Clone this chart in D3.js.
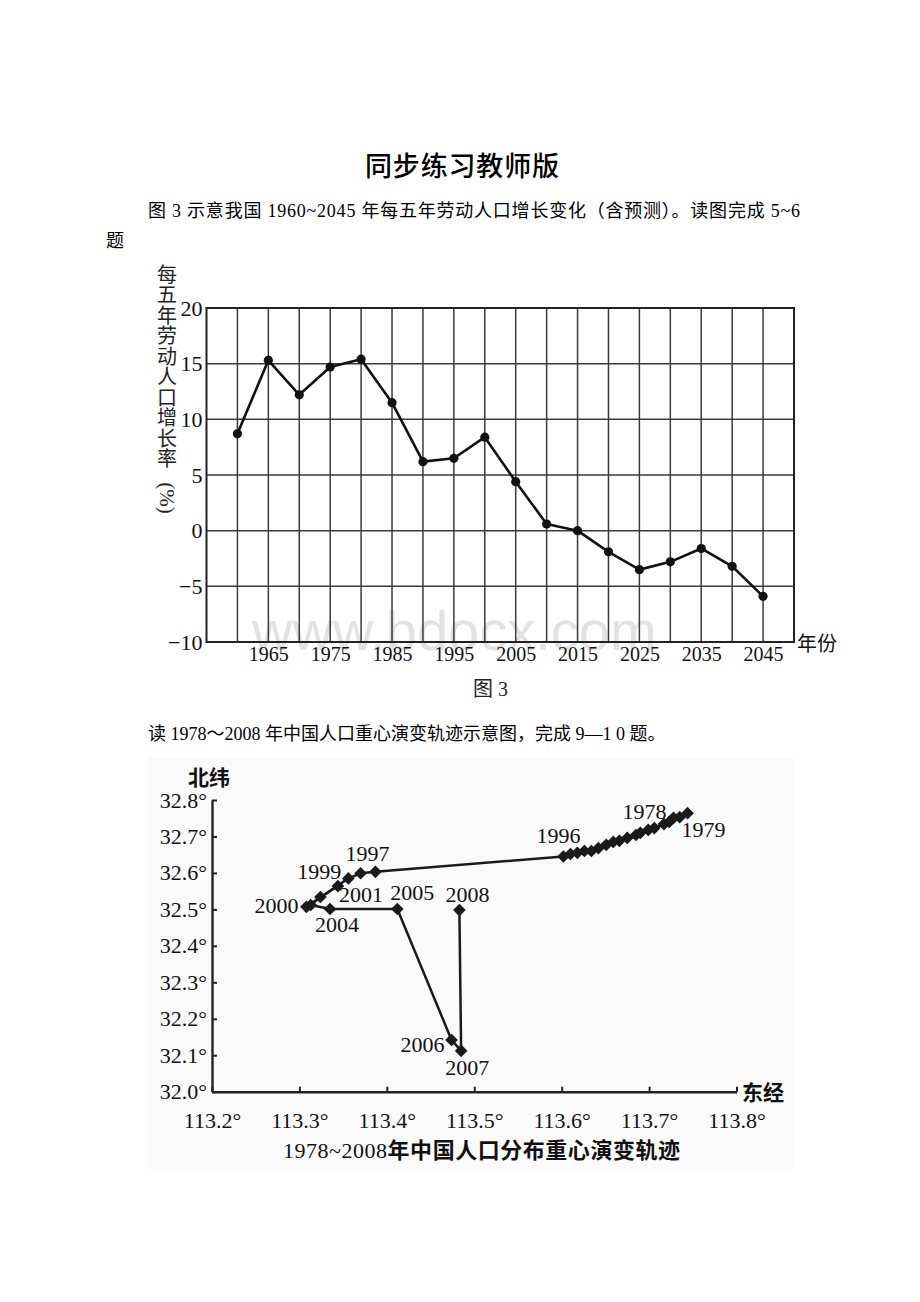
<!DOCTYPE html>
<html>
<head>
<meta charset="utf-8">
<script src="https://cdn.jsdelivr.net/npm/d3@7"></script>
<style>
  html, body { margin: 0; padding: 0; background: #fff; }
  svg { display: block; }
</style>
</head>
<body>
<svg id="page" width="920" height="1302"></svg>
<script>
// ---------- Chart 1 data: 每五年劳动人口增长率 ----------
const years = [1960, 1965, 1970, 1975, 1980, 1985, 1990, 1995, 2000, 2005, 2010, 2015, 2020, 2025, 2030, 2035, 2040, 2045];
const growth = [8.7, 15.3, 12.2, 14.7, 15.4, 11.5, 6.2, 6.5, 8.4, 4.4, 0.6, 0.0, -1.9, -3.5, -2.8, -1.6, -3.2, -5.9];
const growthTicks = [-10, -5, 0, 5, 10, 15, 20];
const yearTickLabels = [1965, 1975, 1985, 1995, 2005, 2015, 2025, 2035, 2045];
const yTitleChars = ["每", "五", "年", "劳", "动", "人", "口", "增", "长", "率"];

// ---------- Chart 2 data: 人口重心演变轨迹 ----------
const trackYears = [1978, 1979, 1980, 1981, 1982, 1983, 1984, 1985, 1986, 1987, 1988, 1989, 1990, 1991, 1992, 1993, 1994, 1995, 1996, 1997, 1998, 1999, 2000, 2001, 2002, 2003, 2004, 2005, 2006, 2007, 2008];
const trackLon = [113.728, 113.744, 113.735, 113.723, 113.717, 113.706, 113.699, 113.690, 113.685, 113.675, 113.666, 113.659, 113.651, 113.642, 113.634, 113.626, 113.618, 113.610, 113.602, 113.387, 113.370, 113.356, 113.308, 113.344, 113.324, 113.313, 113.335, 113.412, 113.474, 113.485, 113.483];
const trackLat = [32.751, 32.764, 32.753, 32.740, 32.734, 32.723, 32.718, 32.710, 32.704, 32.696, 32.688, 32.685, 32.677, 32.668, 32.660, 32.660, 32.655, 32.652, 32.645, 32.603, 32.599, 32.585, 32.507, 32.564, 32.534, 32.512, 32.501, 32.501, 32.142, 32.112, 32.498];
const latTicks = [32.0, 32.1, 32.2, 32.3, 32.4, 32.5, 32.6, 32.7, 32.8];
const lonTicks = [113.2, 113.3, 113.4, 113.5, 113.6, 113.7, 113.8];
const labelledYears = [1978, 1979, 1996, 1997, 1999, 2000, 2001, 2004, 2005, 2006, 2007, 2008];

// label placement (style, not data): offsets from the marker to the label centre
const labelOffset = {
  1978: [-29, -6], 1979: [16, 17], 1996: [-5, -21], 1997: [-8, -18],
  1999: [-29, -7], 2000: [-30, -1], 2001: [23, 9], 2004: [7, 16],
  2005: [15, -16], 2006: [-29, 5], 2007: [6, 17], 2008: [8, -15]
};

const SERIF = "'Liberation Serif', 'Times New Roman', serif";
const CJK = "'Liberation Serif', 'Noto Sans CJK SC', sans-serif";
const CJKS = "'Noto Sans CJK SC', sans-serif";

const svg = d3.select("#page");

// ---------- page text ----------
svg.append("text")
  .attr("x", 365).attr("y", 166 + 0.38 * 27)
  .attr("font-family", CJKS).attr("font-size", 27).attr("font-weight", 500)
  .attr("textLength", 194).attr("lengthAdjust", "spacing")
  .attr("fill", "#000")
  .text("同步练习教师版");

svg.append("text")
  .attr("x", 148).attr("y", 210 + 0.38 * 18)
  .attr("font-family", CJK).attr("font-size", 18)
  .attr("textLength", 652).attr("lengthAdjust", "spacing")
  .attr("fill", "#000")
  .text("图 3 示意我国 1960~2045 年每五年劳动人口增长变化（含预测）。读图完成 5~6");

svg.append("text")
  .attr("x", 106).attr("y", 240 + 0.38 * 18)
  .attr("font-family", CJK).attr("font-size", 18).attr("fill", "#000")
  .text("题");

svg.append("text")
  .attr("x", 148).attr("y", 733 + 0.38 * 18)
  .attr("font-family", CJK).attr("font-size", 18).attr("fill", "#000")
  .text("读 1978～2008 年中国人口重心演变轨迹示意图，完成 9—1 0 题。");

// ---------- Chart 1 ----------
const x1 = d3.scaleLinear().domain([1955, 2050]).range([206.5, 794]);
const y1 = d3.scaleLinear().domain([-10, 20]).range([642, 308]);

const c1 = svg.append("g");

// watermark (under the grid)
c1.append("text")
  .attr("x", 252).attr("y", 650)
  .attr("font-family", "'Liberation Sans', Arial, sans-serif")
  .attr("font-size", 56).attr("fill", "#e2e2e2")
  .text("www.bdocx.com");

// grid
c1.append("g").selectAll("line").data(years).join("line")
  .attr("x1", d => x1(d)).attr("x2", d => x1(d))
  .attr("y1", y1(20)).attr("y2", y1(-10))
  .attr("stroke", "#3a3a3a").attr("stroke-width", 1.5);
c1.append("g").selectAll("line").data(growthTicks).join("line")
  .attr("x1", x1(1955)).attr("x2", x1(2050))
  .attr("y1", d => y1(d)).attr("y2", d => y1(d))
  .attr("stroke", "#3a3a3a").attr("stroke-width", 1.5);
c1.append("rect")
  .attr("x", x1(1955)).attr("y", y1(20))
  .attr("width", x1(2050) - x1(1955)).attr("height", y1(-10) - y1(20))
  .attr("fill", "none").attr("stroke", "#222").attr("stroke-width", 2);

// axes (labels only)
const ax1 = c1.append("g").attr("transform", `translate(${x1(1955)},0)`)
  .call(d3.axisLeft(y1).tickValues(growthTicks).tickSize(0).tickPadding(4)
    .tickFormat(d => d < 0 ? "\u2212" + Math.abs(d) : String(d)));
ax1.select(".domain").remove();
ax1.attr("font-family", SERIF).attr("font-size", 22);
ax1.selectAll("text").attr("fill", "#111");

const bx1 = c1.append("g").attr("transform", `translate(0,${y1(-10)})`)
  .call(d3.axisBottom(x1).tickValues(yearTickLabels).tickSize(0).tickPadding(5).tickFormat(d3.format("d")));
bx1.select(".domain").remove();
bx1.attr("font-family", SERIF).attr("font-size", 20);
bx1.selectAll("text").attr("fill", "#111");

// line + points
const line1 = d3.line().x((d, i) => x1(years[i])).y(d => y1(d));
c1.append("path").datum(growth)
  .attr("d", line1).attr("fill", "none")
  .attr("stroke", "#111").attr("stroke-width", 2.6).attr("stroke-linejoin", "round");
c1.append("g").selectAll("circle").data(growth).join("circle")
  .attr("cx", (d, i) => x1(years[i])).attr("cy", d => y1(d)).attr("r", 4.6)
  .attr("fill", "#111");

// y title (vertical)
c1.append("g").selectAll("text").data(yTitleChars).join("text")
  .attr("x", 167).attr("y", (d, i) => 274 + i * 20.5 + 0.38 * 20)
  .attr("text-anchor", "middle")
  .attr("font-family", CJKS).attr("font-size", 20).attr("fill", "#222")
  .text(d => d);
c1.append("text")
  .attr("transform", "translate(167,498) rotate(90)")
  .attr("text-anchor", "middle").attr("dy", "0.33em")
  .attr("font-family", SERIF).attr("font-size", 21).attr("fill", "#222")
  .text("(%)");

c1.append("text")
  .attr("x", 797).attr("y", 643 + 0.38 * 20)
  .attr("font-family", CJKS).attr("font-size", 20).attr("fill", "#111")
  .text("年份");
c1.append("text")
  .attr("x", 473).attr("y", 688 + 0.38 * 20)
  .attr("font-family", CJK).attr("font-size", 20).attr("fill", "#222")
  .text("图 3");

// ---------- Chart 2 ----------
svg.append("rect")
  .attr("x", 148).attr("y", 757).attr("width", 646).attr("height", 412)
  .attr("fill", "#fafafa");

const x2 = d3.scaleLinear().domain([113.2, 113.8]).range([212, 736.5]);
const y2 = d3.scaleLinear().domain([32.0, 32.8]).range([1091.7, 800]);
const c2 = svg.append("g");

const ay2 = c2.append("g").attr("transform", `translate(${x2(113.2)},0)`)
  .call(d3.axisLeft(y2).tickValues(latTicks).tickSizeInner(-5).tickSizeOuter(0).tickPadding(5)
    .tickFormat(d => d.toFixed(1) + "°"));
const ax2 = c2.append("g").attr("transform", `translate(0,${y2(32.0)})`)
  .call(d3.axisBottom(x2).tickValues(lonTicks).tickSizeInner(-5).tickSizeOuter(0).tickPadding(21)
    .tickFormat(d => d.toFixed(1) + "°"));
[ay2, ax2].forEach(a => {
  a.attr("font-family", SERIF).attr("font-size", 22);
  a.select(".domain").attr("stroke", "#222").attr("stroke-width", 2.4);
  a.selectAll(".tick line").attr("stroke", "#222").attr("stroke-width", 2);
  a.selectAll("text").attr("fill", "#111");
});

const pts = trackYears.map((yr, i) => ({ year: yr, lon: trackLon[i], lat: trackLat[i] }));
c2.append("path").datum(pts)
  .attr("d", d3.line().x(d => x2(d.lon)).y(d => y2(d.lat)))
  .attr("fill", "none").attr("stroke", "#1a1a1a").attr("stroke-width", 2.5)
  .attr("stroke-linejoin", "round");
const diamond = d3.symbol().type(d3.symbolSquare).size(80);
c2.append("g").selectAll("path").data(pts).join("path")
  .attr("d", diamond)
  .attr("transform", d => `translate(${x2(d.lon)},${y2(d.lat)}) rotate(45)`)
  .attr("fill", "#1a1a1a");

c2.append("g").selectAll("text").data(pts.filter(d => labelledYears.includes(d.year))).join("text")
  .attr("x", d => x2(d.lon) + labelOffset[d.year][0])
  .attr("y", d => y2(d.lat) + labelOffset[d.year][1] + 0.33 * 22)
  .attr("text-anchor", "middle")
  .attr("font-family", SERIF).attr("font-size", 22).attr("fill", "#111")
  .text(d => d.year);

c2.append("text")
  .attr("x", 188).attr("y", 777 + 0.38 * 21)
  .attr("font-family", CJKS).attr("font-size", 21).attr("font-weight", 700).attr("fill", "#111")
  .text("北纬");
c2.append("text")
  .attr("x", 742).attr("y", 1092 + 0.38 * 21)
  .attr("font-family", CJKS).attr("font-size", 21).attr("font-weight", 700).attr("fill", "#111")
  .text("东经");

const cap = c2.append("text")
  .attr("x", 283).attr("y", 1150 + 0.36 * 22)
  .attr("font-size", 22).attr("fill", "#111")
  .attr("textLength", 397).attr("lengthAdjust", "spacing");
cap.append("tspan").attr("font-family", SERIF).text("1978~2008");
cap.append("tspan").attr("font-family", CJKS).attr("font-weight", 700).text("年中国人口分布重心演变轨迹");
</script>
</body>
</html>
